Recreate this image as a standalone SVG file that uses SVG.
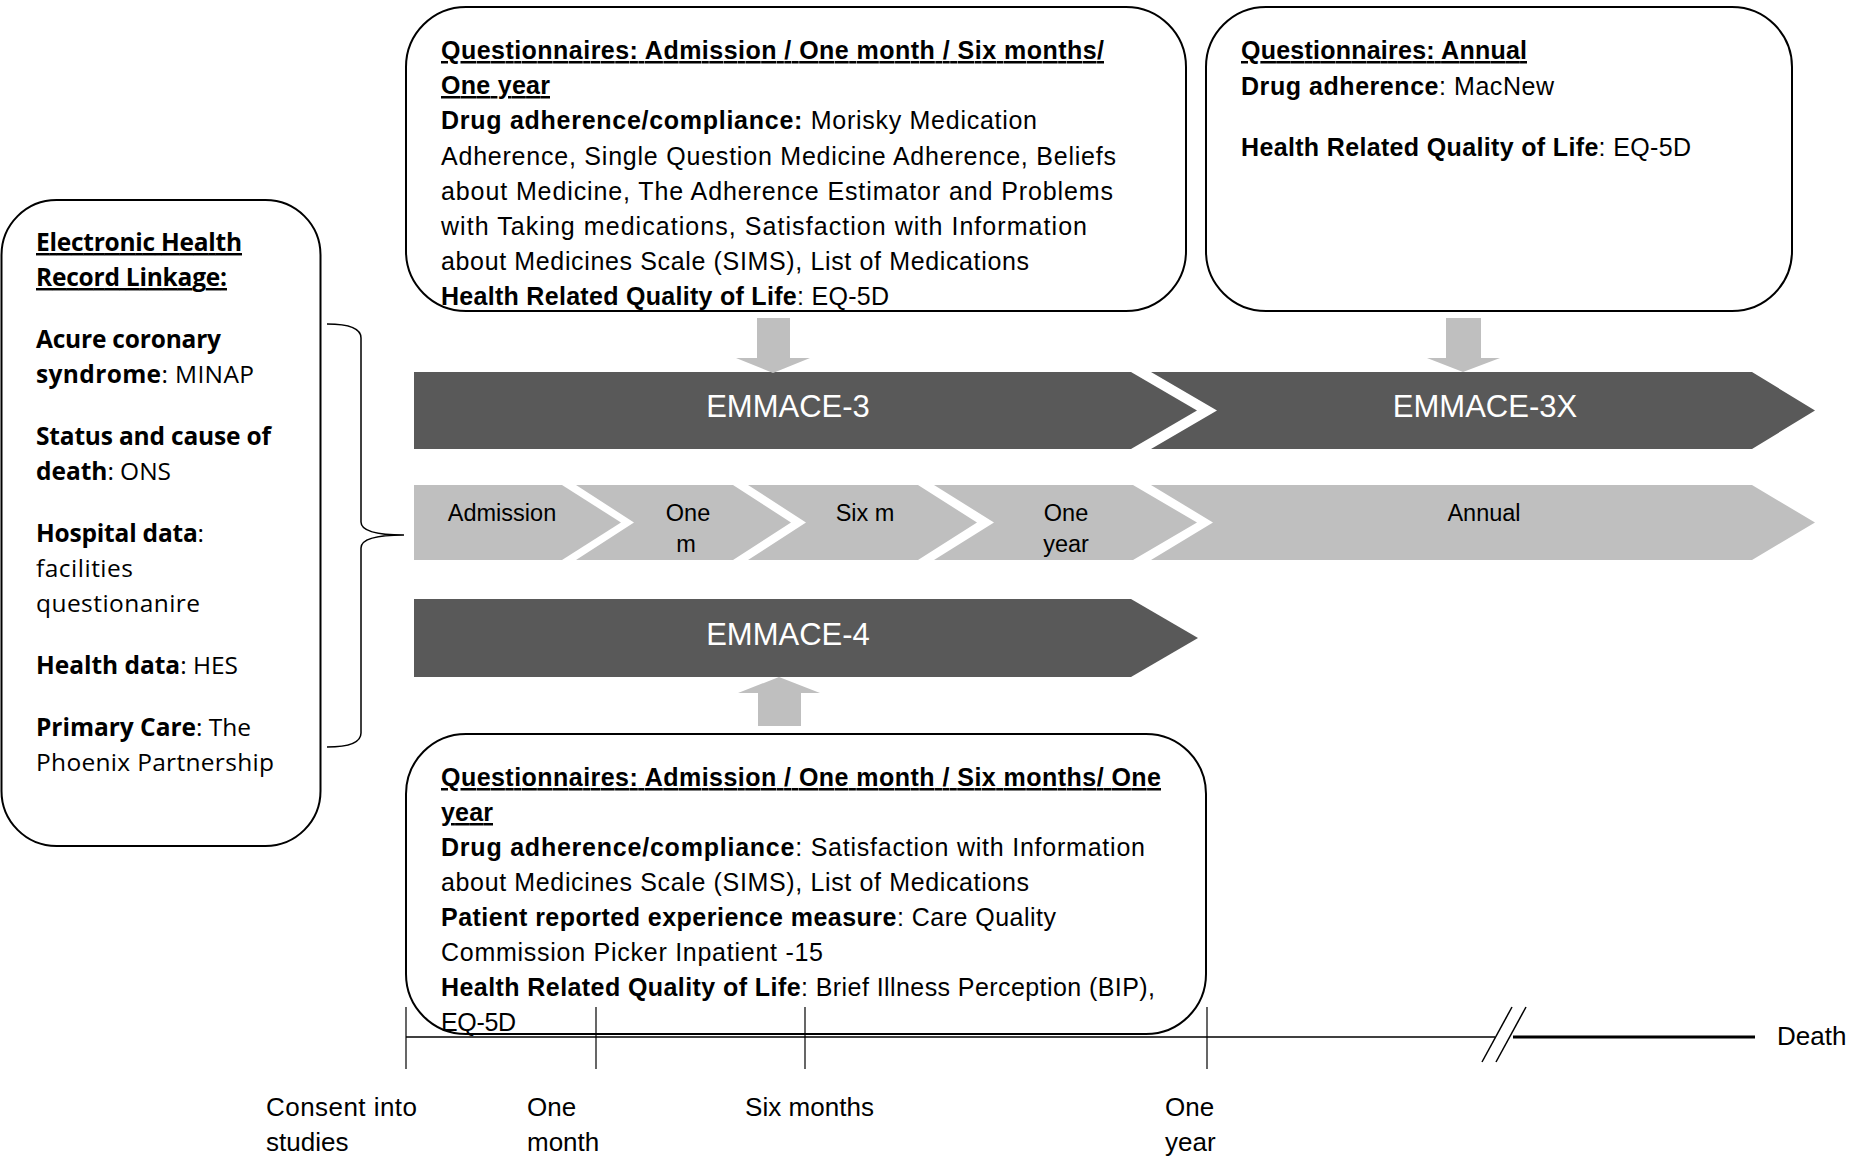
<svg xmlns="http://www.w3.org/2000/svg" width="1863" height="1156" viewBox="0 0 1863 1156">
<style>
.box{fill:#fff;stroke:#000;stroke-width:2}
.dark{fill:#595959}
.light{fill:#bfbfbf}
.arr{fill:#bfbfbf}
.t{font-family:"Liberation Sans",Arial,sans-serif;font-size:25px;fill:#000}
.o{font-family:"Open Sans","DejaVu Sans",sans-serif;font-size:24.5px;fill:#000}
.b{font-weight:bold}
.u{text-decoration:underline}
.big{font-family:"Liberation Sans",Arial,sans-serif;font-size:31px;fill:#fff;text-anchor:middle}
.seg{font-family:"Liberation Sans",Arial,sans-serif;font-size:23.5px;fill:#000;text-anchor:middle}
.tl{font-family:"Liberation Sans",Arial,sans-serif;font-size:26px;fill:#000}
.line{stroke:#000;fill:none}
</style>
<rect width="1863" height="1156" fill="#fff"/>

<g id="bar-emmace3">
<polygon class="dark" points="414,372 1131,372 1197,410.5 1131,449 414,449"/>
<text class="big" x="788" y="417">EMMACE-3</text>
</g>
<g id="bar-emmace3x">
<polygon class="dark" points="1151,372 1752,372 1815,410.5 1752,449 1151,449 1217,410.5"/>
<text class="big" x="1485" y="417">EMMACE-3X</text>
</g>
<g id="seg-admission">
<polygon class="light" points="414,485 562,485 621,522.5 562,560 414,560"/>
<text class="seg" x="502" y="521">Admission</text>
</g>
<g id="seg-one-month">
<polygon class="light" points="576,485 733,485 791,522.5 733,560 576,560 634,522.5"/>
<text class="seg" x="688" y="521">One</text>
<text class="seg" x="686" y="552">m</text>
</g>
<g id="seg-six-months">
<polygon class="light" points="748,485 918,485 977,522.5 918,560 748,560 806,522.5"/>
<text class="seg" x="865" y="521">Six m</text>
</g>
<g id="seg-one-year">
<polygon class="light" points="934,485 1133,485 1197,522.5 1133,560 934,560 994,522.5"/>
<text class="seg" x="1066" y="521">One</text>
<text class="seg" x="1066" y="552">year</text>
</g>
<g id="seg-annual">
<polygon class="light" points="1151,485 1752,485 1815,522.5 1752,560 1151,560 1213,522.5"/>
<text class="seg" x="1484" y="521">Annual</text>
</g>
<g id="bar-emmace4">
<polygon class="dark" points="414,599 1131,599 1198,638 1131,677 414,677"/>
<text class="big" x="788" y="645">EMMACE-4</text>
</g>

<g id="connectors">
<polygon class="arr" points="757,318 790,318 790,358 810,358 773,373 736,358 757,358"/>
<polygon class="arr" points="1446,318 1481,318 1481,358 1500,358 1463,372 1427,358 1446,358"/>
<polygon class="arr" points="779,677 820,693 801,693 801,726 758,726 758,693 738,693"/>
<path class="line" stroke-width="1.5" d="M327,324 Q361,324 361,338 L361,522 Q361,535 404,535 Q361,535 361,548 L361,733 Q361,747 327,747"/>
</g>

<g id="box-ehr">
<rect class="box" x="1.5" y="200" width="319" height="646" rx="55"/>
<text class="o b" x="36" y="251" textLength="206"><tspan class="u">Electronic Health</tspan></text>
<text class="o b" x="36" y="286" textLength="191"><tspan class="u">Record Linkage:</tspan></text>
<text class="o b" x="36" y="348" textLength="185">Acure coronary</text>
<text class="o" x="36" y="383" textLength="218"><tspan class="b">syndrome</tspan>: MINAP</text>
<text class="o b" x="36" y="445" textLength="235">Status and cause of</text>
<text class="o" x="36" y="480" textLength="135"><tspan class="b">death</tspan>: ONS</text>
<text class="o" x="36" y="542" textLength="168"><tspan class="b">Hospital data</tspan>:</text>
<text class="o" x="36" y="577" textLength="97">facilities</text>
<text class="o" x="36" y="612" textLength="164">questionanire</text>
<text class="o" x="36" y="674" textLength="202"><tspan class="b">Health data</tspan>: HES</text>
<text class="o" x="36" y="736" textLength="215"><tspan class="b">Primary Care</tspan>: The</text>
<text class="o" x="36" y="771" textLength="238">Phoenix Partnership</text>
</g>

<g id="box-q-emmace3">
<rect class="box" x="406" y="7" width="780" height="304" rx="60"/>
<text class="t b" x="441" y="59" textLength="663"><tspan class="u">Questionnaires: Admission / One month / Six months/</tspan></text>
<text class="t b" x="441" y="94" textLength="109"><tspan class="u">One year</tspan></text>
<text class="t" x="441" y="129" textLength="596"><tspan class="b">Drug adherence/compliance:</tspan> Morisky Medication</text>
<text class="t" x="441" y="164.5" textLength="675">Adherence, Single Question Medicine Adherence, Beliefs</text>
<text class="t" x="441" y="199.5" textLength="672">about Medicine, The Adherence Estimator and Problems</text>
<text class="t" x="441" y="234.5" textLength="646">with Taking medications, Satisfaction with Information</text>
<text class="t" x="441" y="269.5" textLength="588">about Medicines Scale (SIMS), List of Medications</text>
<text class="t" x="441" y="305" textLength="448"><tspan class="b">Health Related Quality of Life</tspan>: EQ-5D</text>
</g>

<g id="box-q-annual">
<rect class="box" x="1206" y="7" width="586" height="304" rx="60"/>
<text class="t b" x="1241" y="59" textLength="286"><tspan class="u">Questionnaires: Annual</tspan></text>
<text class="t" x="1241" y="94.5" textLength="313"><tspan class="b">Drug adherence</tspan>: MacNew</text>
<text class="t" x="1241" y="156" textLength="450"><tspan class="b">Health Related Quality of Life</tspan>: EQ-5D</text>
</g>

<g id="box-q-emmace4">
<rect class="box" x="406" y="734" width="800" height="300" rx="60"/>
<text class="t b" x="441" y="786" textLength="720"><tspan class="u">Questionnaires: Admission / One month / Six months/ One</tspan></text>
<text class="t b" x="441" y="821" textLength="52"><tspan class="u">year</tspan></text>
<text class="t" x="441" y="856" textLength="704"><tspan class="b">Drug adherence/compliance</tspan>: Satisfaction with Information</text>
<text class="t" x="441" y="891" textLength="588">about Medicines Scale (SIMS), List of Medications</text>
<text class="t" x="441" y="926" textLength="615"><tspan class="b">Patient reported experience measure</tspan>: Care Quality</text>
<text class="t" x="441" y="961" textLength="382">Commission Picker Inpatient -15</text>
<text class="t" x="441" y="996" textLength="714"><tspan class="b">Health Related Quality of Life</tspan>: Brief Illness Perception (BIP),</text>
<text class="t" x="441" y="1031" textLength="75">EQ-5D</text>
</g>

<g id="timeline">
<line class="line" stroke-width="1.6" x1="406" y1="1037" x2="1495" y2="1037"/>
<line class="line" stroke-width="3" x1="1513" y1="1037" x2="1755" y2="1037"/>
<line class="line" stroke-width="1.5" x1="1482" y1="1062" x2="1512" y2="1007"/>
<line class="line" stroke-width="1.5" x1="1496" y1="1062" x2="1526" y2="1007"/>
<line class="line" stroke-width="1.2" x1="406" y1="1007" x2="406" y2="1069"/>
<line class="line" stroke-width="1.2" x1="596" y1="1007" x2="596" y2="1069"/>
<line class="line" stroke-width="1.2" x1="805" y1="1007" x2="805" y2="1069"/>
<line class="line" stroke-width="1.2" x1="1207" y1="1007" x2="1207" y2="1069"/>
<text class="tl" x="1777" y="1045">Death</text>
<text class="tl" x="266" y="1116" textLength="151">Consent into</text>
<text class="tl" x="266" y="1151">studies</text>
<text class="tl" x="527" y="1116">One</text>
<text class="tl" x="527" y="1151">month</text>
<text class="tl" x="745" y="1116" textLength="129">Six months</text>
<text class="tl" x="1165" y="1116">One</text>
<text class="tl" x="1165" y="1151">year</text>
</g>
</svg>
